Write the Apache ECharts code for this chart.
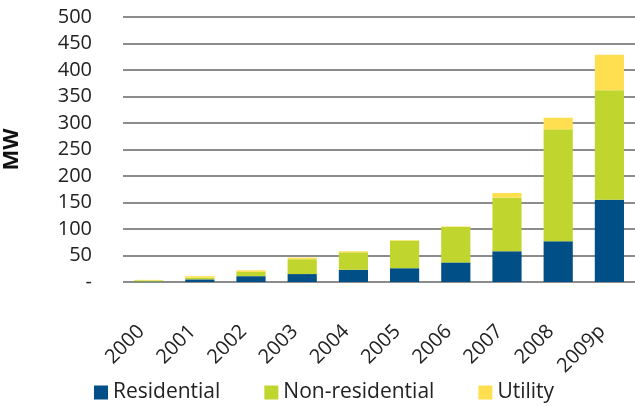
<!DOCTYPE html>
<html>
<head>
<meta charset="utf-8">
<script src="https://cdn.jsdelivr.net/npm/echarts@6/dist/echarts.min.js"></script>
<style>
  html, body { margin: 0; padding: 0; background: #fff; }
  #chart { width: 635px; height: 406px; }
</style>
</head>
<body>
<div id="chart"></div>
<script>
const years = ['2000', '2001', '2002', '2003', '2004', '2005', '2006', '2007', '2008', '2009p'];
const residential = [1, 5, 11, 15, 23, 26, 37, 58, 77, 155];
const nonResidential = [2, 3, 8, 28, 33, 52, 67, 101, 211, 207];
const utility = [1, 3, 3, 3, 2, 1, 1, 9, 22, 67];

const font = 'Open Sans';

const chart = echarts.init(document.getElementById('chart'));

const bar = (name, data, color) => ({
  name: name,
  type: 'bar',
  stack: 'total',
  data: data,
  barWidth: '57%',
  itemStyle: {color: color},
  emphasis: {disabled: true}
});

chart.setOption({
  animation: false,
  textStyle: {fontFamily: font},
  grid: {left: 123, right: 0, top: 17, bottom: 124, outerBoundsMode: 'none'},
  legend: {
    left: 89,
    bottom: -2,
    itemWidth: 14,
    itemHeight: 14,
    itemGap: 44,
    icon: 'rect',
    textStyle: {fontSize: 21, color: '#222', fontFamily: font},
    data: ['Residential', 'Non-residential', 'Utility']
  },
  xAxis: {
    type: 'category',
    data: years,
    axisLine: {show: false},
    axisTick: {show: false},
    axisLabel: {
      rotate: 45,
      fontSize: 20,
      color: '#222',
      margin: 39,
      interval: 0,
      // trailing spacer nudges the rotated label down-left like the original
      formatter: v => v + '\u00a0\u00a0'
    }
  },
  yAxis: {
    type: 'value',
    min: 0,
    max: 500,
    interval: 50,
    name: 'MW',
    nameLocation: 'middle',
    nameGap: 100,
    nameTextStyle: {fontSize: 22, fontWeight: 'bold', color: '#111'},
    axisLine: {show: false},
    axisTick: {show: false},
    axisLabel: {
      fontSize: 20,
      color: '#222',
      margin: 31,
      formatter: v => v === 0 ? '-' : v
    },
    splitLine: {lineStyle: {color: '#8c8c8c', width: 2}}
  },
  series: [
    bar('Residential', residential, '#004f86'),
    bar('Non-residential', nonResidential, '#c0d62f'),
    bar('Utility', utility, '#ffdf4f')
  ]
});
</script>
</body>
</html>
